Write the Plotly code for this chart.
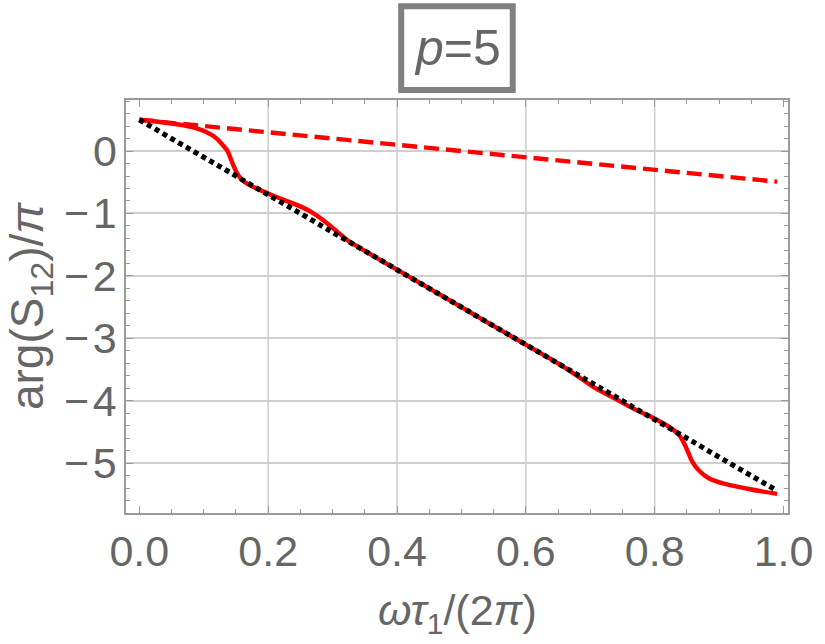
import plotly.graph_objects as go

# ---- data ----
red_x = [0.0, 0.02, 0.05, 0.072, 0.09, 0.103, 0.115, 0.123, 0.13, 0.137, 0.144, 0.151,
         0.159, 0.174, 0.2, 0.225, 0.246, 0.266, 0.287, 0.307, 0.322, 0.35, 0.4, 0.5,
         0.583, 0.65, 0.674, 0.705, 0.736, 0.766, 0.797, 0.823, 0.838, 0.848, 0.858,
         0.869, 0.884, 0.909, 0.95, 0.99]
red_y = [0.50, 0.48, 0.44, 0.405, 0.36, 0.31, 0.24, 0.17, 0.09, 0.0, -0.18, -0.34,
         -0.46, -0.56, -0.68, -0.785, -0.87, -0.97, -1.12, -1.29, -1.42, -1.6, -1.9, -2.5,
         -3.0, -3.4, -3.56, -3.78, -3.95, -4.12, -4.27, -4.42, -4.55, -4.73, -4.97,
         -5.12, -5.24, -5.33, -5.42, -5.49]

dashed_x = [0.0, 0.99]
dashed_y = [0.5, -0.49]

dotted_x = [0.0, 0.99]
dotted_y = [0.5, -5.44]

x_ticks = [0.0, 0.2, 0.4, 0.6, 0.8, 1.0]
x_grid = [0.2, 0.4, 0.6, 0.8]
y_ticks = [0, -1, -2, -3, -4, -5]
y_tick_labels = ["0", "\u2212\u200a1", "\u2212\u200a2", "\u2212\u200a3", "\u2212\u200a4", "\u2212\u200a5"]

title_text = "<i>p</i>=5"
x_title = "<i>ωτ</i><sub>1</sub>/(2<i>π</i>)"
y_title = "arg(S<sub>12</sub>)/<i>π</i>"

# ---- styling ----
FONT = "Liberation Sans, Arial, sans-serif"
TXT = "#666666"
FRAME = "#9a9a9a"
GRID = "#cfcfcf"

fig = go.Figure()
fig.add_trace(go.Scatter(x=red_x, y=red_y, mode="lines",
                         line=dict(color="#ff0000", width=4.4, shape="spline", smoothing=0.6),
                         hoverinfo="skip"))
fig.add_trace(go.Scatter(x=dashed_x, y=dashed_y, mode="lines",
                         line=dict(color="#ff0000", width=4.4, dash="15px,7px"),
                         hoverinfo="skip"))
fig.add_trace(go.Scatter(x=dotted_x, y=dotted_y, mode="lines",
                         line=dict(color="#000000", width=5.2, dash="5px,4px"),
                         hoverinfo="skip"))

for gx in x_grid:
    fig.add_shape(type="line", xref="x", yref="paper", x0=gx, x1=gx, y0=0, y1=1,
                  line=dict(color=GRID, width=1.6), layer="below")

# title box
fig.add_shape(type="rect", xref="paper", yref="paper",
              x0=0.4157, x1=0.5842, y0=1.024, y1=1.227,
              line=dict(color="#808080", width=6), fillcolor="white")
fig.add_annotation(text=title_text, xref="paper", yref="paper", x=0.5, y=1.1255,
                   xanchor="center", yanchor="middle", showarrow=False,
                   font=dict(family=FONT, size=50, color=TXT))

# y tick labels placed next to the frame
for yv, lab in zip(y_ticks, y_tick_labels):
    fig.add_annotation(text=lab, xref="paper", yref="y", x=-0.0105, y=yv,
                       xanchor="right", yanchor="middle", showarrow=False,
                       font=dict(family=FONT, size=43, color=TXT))

# axis titles
fig.add_annotation(text=x_title, xref="paper", yref="paper", x=0.5, y=-0.243,
                   xanchor="center", yanchor="middle", showarrow=False,
                   font=dict(family=FONT, size=43, color=TXT))
fig.add_annotation(text=y_title, xref="paper", yref="paper", x=-0.145, y=0.501,
                   xanchor="center", yanchor="middle", showarrow=False, textangle=-90,
                   font=dict(family=FONT, size=46, color=TXT))

fig.update_layout(
    width=825, height=644,
    margin=dict(l=126, r=28, t=100, b=131),
    paper_bgcolor="white", plot_bgcolor="white",
    showlegend=False,
    font=dict(family=FONT, color=TXT, size=42),
)
fig.update_xaxes(
    range=[-0.0207, 1.0069], tickvals=x_ticks, tickformat=".1f",
    showgrid=False, zeroline=False,
    showline=True, linecolor=FRAME, linewidth=1.6, mirror="allticks",
    ticks="inside", ticklen=7, tickwidth=1.3, tickcolor=FRAME,
    minor=dict(tick0=0, dtick=0.05, ticks="inside", ticklen=4, tickwidth=1.1, tickcolor=FRAME),
    tickfont=dict(size=43, color=TXT, family=FONT),
)
fig.update_yaxes(
    range=[-5.796, 0.817], tickvals=y_ticks, showticklabels=False,
    showgrid=True, gridcolor=GRID, gridwidth=1.6, zeroline=False,
    showline=True, linecolor=FRAME, linewidth=1.6, mirror="allticks",
    ticks="inside", ticklen=7, tickwidth=1.3, tickcolor=FRAME,
    minor=dict(tick0=0, dtick=0.2, ticks="inside", ticklen=4, tickwidth=1.1, tickcolor=FRAME),
)

fig.write_html("out.html")
